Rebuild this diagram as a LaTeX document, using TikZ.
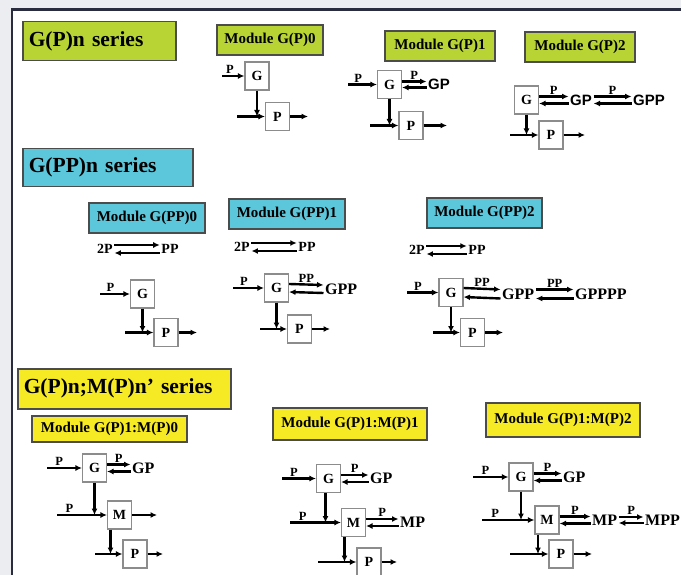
\documentclass[tikz,border=0pt]{standalone}
\usepackage{fontspec}
\setmainfont{Liberation Serif}
\newfontfamily\sansbf{Liberation Sans}
\usetikzlibrary{arrows.meta}
\definecolor{limefill}{RGB}{184,212,52}
\definecolor{cyanfill}{RGB}{92,198,218}
\definecolor{yelfill}{RGB}{246,234,36}
\definecolor{framebg}{RGB}{236,237,241}
\definecolor{frameline}{RGB}{40,44,62}
\begin{document}
\begin{tikzpicture}[x=1pt, y=-1pt,
    series/.style={
      draw=black!70, line width=1.5pt, anchor=north west, align=left,
      inner xsep=5pt, inner ysep=0pt, font=\bfseries\fontsize{21.5}{21.5}\selectfont
    },
    module/.style={
      draw=black!70, line width=1.2pt, inner sep=0pt, minimum height=30pt,
      font=\bfseries\fontsize{15}{15}\selectfont
    },
    blk/.style={
      draw=black!45, line width=1.1pt, fill=white, minimum width=24pt,
      minimum height=28pt, inner sep=0pt, font=\bfseries\fontsize{14}{14}\selectfont
    },
    spec/.style={anchor=west, inner sep=1.5pt, font=\bfseries\fontsize{16}{16}\selectfont},
    sspec/.style={spec, font=\sansbf\bfseries\fontsize{15}{15}\selectfont},
    rct/.style={inner sep=1.5pt, font=\bfseries\fontsize{14}{14}\selectfont},
    lbl/.style={above, inner sep=1pt, font=\bfseries\fontsize{12.5}{12.5}\selectfont},
    flow/.style={-{Latex[length=6.5pt,width=6pt]}, line width=2.4pt}
  ]
  \clip (0,0) rectangle (681,575);
  % frame of the slide
  \fill[framebg] (0,0) rectangle (681,575);
  \fill[white] (12,9.5) rectangle (681,575);
  \draw[frameline, line width=2.8pt] (12,575) -- (12,9.5) -- (681,9.5);

  % series titles
  \node[series, fill=limefill, minimum width=153pt, minimum height=39pt, text width=141pt] (tGP)  at (22,21)  {G(P)n series};
  \node[series, fill=cyanfill, minimum width=170pt, minimum height=38pt, text width=158pt] (tGPP) at (22,148) {G(PP)n series};
  \node[series, fill=yelfill,  minimum width=213pt, minimum height=40pt, text width=201pt] (tGM)  at (17,368) {G(P)n;M(P)n' series};

  % module headers
  \node[module, fill=limefill, minimum width=106pt] (mG0) at (270,40)   {Module G(P)0};
  \node[module, fill=limefill, minimum width=110pt] (mG1) at (440,46)   {Module G(P)1};
  \node[module, fill=limefill, minimum width=110pt] (mG2) at (580,47)   {Module G(P)2};
  \node[module, fill=cyanfill, minimum width=116pt] (mG3) at (147,218)  {Module G(PP)0};
  \node[module, fill=cyanfill, minimum width=116pt] (mG4) at (287,214)  {Module G(PP)1};
  \node[module, fill=cyanfill, minimum width=115pt] (mG5) at (484.5,213) {Module G(PP)2};
  \node[module, fill=yelfill, minimum width=155pt, minimum height=26pt] (mG6) at (109.5,429) {Module G(P)1:M(P)0};
  \node[module, fill=yelfill, minimum width=154pt, minimum height=32pt] (mG7) at (350,424)   {Module G(P)1:M(P)1};
  \node[module, fill=yelfill, minimum width=154pt, minimum height=34pt] (mG8) at (563,420)   {Module G(P)1:M(P)2};

  % --- G(P)0
  \node[blk] (G0) at (257,76)      {G};
  \node[blk] (P0) at (277.5,116.5) {P};
  \coordinate (i0) at (222,76);
  \coordinate (f0) at (237,116.5);
  \coordinate (o0) at (308,116.5);
  \draw[flow] (i0) -- node[lbl, pos=0.35] {P} (G0);
  \draw[flow] (G0) -- (G0 |- f0);
  \draw[flow] (f0) -- (P0);
  \draw[flow] (P0) -- (o0);

  % --- G(P)1
  \node[blk] (G1) at (389.5,84.5) {G};
  \node[blk] (P1) at (411,125.5)  {P};
  \node[sspec] (GP1) at (426.5,84.5) {GP};
  \coordinate (i1) at (348,84.5);
  \coordinate (f1) at (370,125.5);
  \coordinate (o1) at (447,125.5);
  \draw[flow] (i1) -- node[lbl, pos=0.35] {P} (G1);
  \draw[flow] ([yshift=3pt]G1.east) -- node[lbl] {P} ([yshift=3pt]GP1.west);
  \draw[flow] ([yshift=-3pt]GP1.west) -- ([yshift=-3pt]G1.east);
  \draw[flow] (G1) -- (G1 |- f1);
  \draw[flow] (f1) -- (P1);
  \draw[flow] (P1) -- (o1);

  % --- G(P)2
  \node[blk] (G2) at (526.5,100) {G};
  \node[blk] (P2) at (551,135)   {P};
  \node[sspec] (GP2)  at (568.5,100) {GP};
  \node[sspec] (GPP2) at (631.5,100) {GPP};
  \coordinate (f2) at (510,135);
  \coordinate (o2) at (585,135);
  \draw[flow] ([yshift=3.5pt]G2.east) -- node[lbl] {P} ([yshift=3.5pt]GP2.west);
  \draw[flow] ([yshift=-3.5pt]GP2.west) -- ([yshift=-3.5pt]G2.east);
  \draw[flow] ([yshift=3.5pt]GP2.east) -- node[lbl] {P} ([yshift=3.5pt]GPP2.west);
  \draw[flow] ([yshift=-3.5pt]GPP2.west) -- ([yshift=-3.5pt]GP2.east);
  \draw[flow] (G2) -- (G2 |- f2);
  \draw[flow] (f2) -- (P2);
  \draw[flow] (P2) -- (o2);

  % --- G(PP)0
  \node[rct] (R3a) at (105,249) {2P};
  \node[rct] (R3b) at (170,249) {PP};
  \draw[flow] ([yshift=4pt]R3a.east) -- ([yshift=4pt]R3b.west);
  \draw[flow] ([yshift=-4pt]R3b.west) -- ([yshift=-4pt]R3a.east);
  \node[blk] (G3) at (142.5,294) {G};
  \node[blk] (P3) at (166,332.5) {P};
  \coordinate (i3) at (100,294);
  \coordinate (f3) at (125,332.5);
  \coordinate (o3) at (197,332.5);
  \draw[flow] (i3) -- node[lbl, pos=0.35] {P} (G3);
  \draw[flow] (G3) -- (G3 |- f3);
  \draw[flow] (f3) -- (P3);
  \draw[flow] (P3) -- (o3);

  % --- G(PP)1
  \node[rct] (R4a) at (242,247) {2P};
  \node[rct] (R4b) at (307,247) {PP};
  \draw[flow] ([yshift=4pt]R4a.east) -- ([yshift=4pt]R4b.west);
  \draw[flow] ([yshift=-4pt]R4b.west) -- ([yshift=-4pt]R4a.east);
  \node[blk] (G4) at (276.5,288) {G};
  \node[blk] (P4) at (299.5,329) {P};
  \node[spec] (GPP4) at (323.5,289) {GPP};
  \coordinate (i4) at (233,288);
  \coordinate (f4) at (260,329);
  \coordinate (o4) at (330,329);
  \draw[flow] (i4) -- node[lbl, pos=0.35] {P} (G4);
  \draw[flow] ([yshift=4pt]G4.east) -- node[lbl] {PP} ([yshift=4pt]GPP4.west);
  \draw[flow] ([yshift=-4pt]GPP4.west) -- ([yshift=-4pt]G4.east);
  \draw[flow] (G4) -- (G4 |- f4);
  \draw[flow] (f4) -- (P4);
  \draw[flow] (P4) -- (o4);

  % --- G(PP)2
  \node[rct] (R5a) at (417,250) {2P};
  \node[rct] (R5b) at (477,250) {PP};
  \draw[flow] ([yshift=4pt]R5a.east) -- ([yshift=4pt]R5b.west);
  \draw[flow] ([yshift=-4pt]R5b.west) -- ([yshift=-4pt]R5a.east);
  \node[blk] (G5) at (451,292.5)   {G};
  \node[blk] (P5) at (472.5,332.5) {P};
  \node[spec] (GPP5)   at (500.5,294) {GPP};
  \node[spec] (GPPPP5) at (573.5,294) {GPPPP};
  \coordinate (i5) at (407,292.5);
  \coordinate (f5) at (433,332.5);
  \coordinate (o5) at (503,332.5);
  \draw[flow] (i5) -- node[lbl, pos=0.35] {P} (G5);
  \draw[flow] ([yshift=4.5pt]G5.east) -- node[lbl] {PP} ([yshift=4.5pt]GPP5.west);
  \draw[flow] ([yshift=-4.5pt]GPP5.west) -- ([yshift=-4.5pt]G5.east);
  \draw[flow] ([yshift=4.5pt]GPP5.east) -- node[lbl] {PP} ([yshift=4.5pt]GPPPP5.west);
  \draw[flow] ([yshift=-4.5pt]GPPPP5.west) -- ([yshift=-4.5pt]GPP5.east);
  \draw[flow] (G5) -- (G5 |- f5);
  \draw[flow] (f5) -- (P5);
  \draw[flow] (P5) -- (o5);

  % --- G(P)1:M(P)0
  \node[blk] (G6) at (94.5,468)  {G};
  \node[blk] (M6) at (119.5,515) {M};
  \node[blk] (P6) at (135,554)   {P};
  \node[spec] (GP6) at (130.5,468) {GP};
  \coordinate (i6)  at (47,468);
  \coordinate (fm6) at (57,515);
  \coordinate (om6) at (157,515);
  \coordinate (fp6) at (95,554);
  \coordinate (op6) at (163,554);
  \draw[flow] (i6) -- node[lbl, pos=0.35] {P} (G6);
  \draw[flow] ([yshift=3.5pt]G6.east) -- node[lbl] {P} ([yshift=3.5pt]GP6.west);
  \draw[flow] ([yshift=-3.5pt]GP6.west) -- ([yshift=-3.5pt]G6.east);
  \draw[flow] (G6) -- (G6 |- fm6);
  \draw[flow] (fm6) -- node[lbl, pos=0.25] {P} (M6);
  \draw[flow] (M6) -- (om6);
  \draw[flow] ([xshift=-9pt]M6.south) -- ([xshift=-9pt]M6.south |- fp6);
  \draw[flow] (fp6) -- (P6);
  \draw[flow] (P6) -- (op6);

  % --- G(P)1:M(P)1
  \node[blk] (G7) at (328.5,478.5) {G};
  \node[blk] (M7) at (353.5,522.5) {M};
  \node[blk] (P7) at (369,562)     {P};
  \node[spec] (GP7) at (368.5,478.5) {GP};
  \node[spec] (MP7) at (398.5,522.5) {MP};
  \coordinate (i7)  at (282,478.5);
  \coordinate (fm7) at (290,522.5);
  \coordinate (fp7) at (318,562);
  \coordinate (op7) at (397,562);
  \draw[flow] (i7) -- node[lbl, pos=0.35] {P} (G7);
  \draw[flow] ([yshift=3.5pt]G7.east) -- node[lbl] {P} ([yshift=3.5pt]GP7.west);
  \draw[flow] ([yshift=-3.5pt]GP7.west) -- ([yshift=-3.5pt]G7.east);
  \draw[flow] ([xshift=-3pt]G7.south) -- ([xshift=-3pt]G7.south |- fm7);
  \draw[flow] (fm7) -- node[lbl, pos=0.25] {P} (M7);
  \draw[flow] ([yshift=3.5pt]M7.east) -- node[lbl] {P} ([yshift=3.5pt]MP7.west);
  \draw[flow] ([yshift=-3.5pt]MP7.west) -- ([yshift=-3.5pt]M7.east);
  \draw[flow] ([xshift=-9pt]M7.south) -- ([xshift=-9pt]M7.south |- fp7);
  \draw[flow] (fp7) -- (P7);
  \draw[flow] (P7) -- (op7);

  % --- G(P)1:M(P)2
  \node[blk] (G8) at (521,477) {G};
  \node[blk] (M8) at (547,520) {M};
  \node[blk] (P8) at (561,554) {P};
  \node[spec] (GP8)  at (561.5,477) {GP};
  \node[spec] (MP8)  at (590.5,520) {MP};
  \node[spec] (MPP8) at (643.5,520) {MPP};
  \coordinate (i8)  at (473,477);
  \coordinate (fm8) at (482,520);
  \coordinate (fp8) at (510,554);
  \coordinate (op8) at (592,554);
  \draw[flow] (i8) -- node[lbl, pos=0.35] {P} (G8);
  \draw[flow] ([yshift=3.5pt]G8.east) -- node[lbl] {P} ([yshift=3.5pt]GP8.west);
  \draw[flow] ([yshift=-3.5pt]GP8.west) -- ([yshift=-3.5pt]G8.east);
  \draw[flow] (G8) -- (G8 |- fm8);
  \draw[flow] (fm8) -- node[lbl, pos=0.25] {P} (M8);
  \draw[flow] ([yshift=3.5pt]M8.east) -- node[lbl] {P} ([yshift=3.5pt]MP8.west);
  \draw[flow] ([yshift=-3.5pt]MP8.west) -- ([yshift=-3.5pt]M8.east);
  \draw[flow] ([yshift=3pt]MP8.east) -- node[lbl] {P} ([yshift=3pt]MPP8.west);
  \draw[flow] ([yshift=-3pt]MPP8.west) -- ([yshift=-3pt]MP8.east);
  \draw[flow] ([xshift=-9pt]M8.south) -- ([xshift=-9pt]M8.south |- fp8);
  \draw[flow] (fp8) -- (P8);
  \draw[flow] (P8) -- (op8);
\end{tikzpicture}
\end{document}
